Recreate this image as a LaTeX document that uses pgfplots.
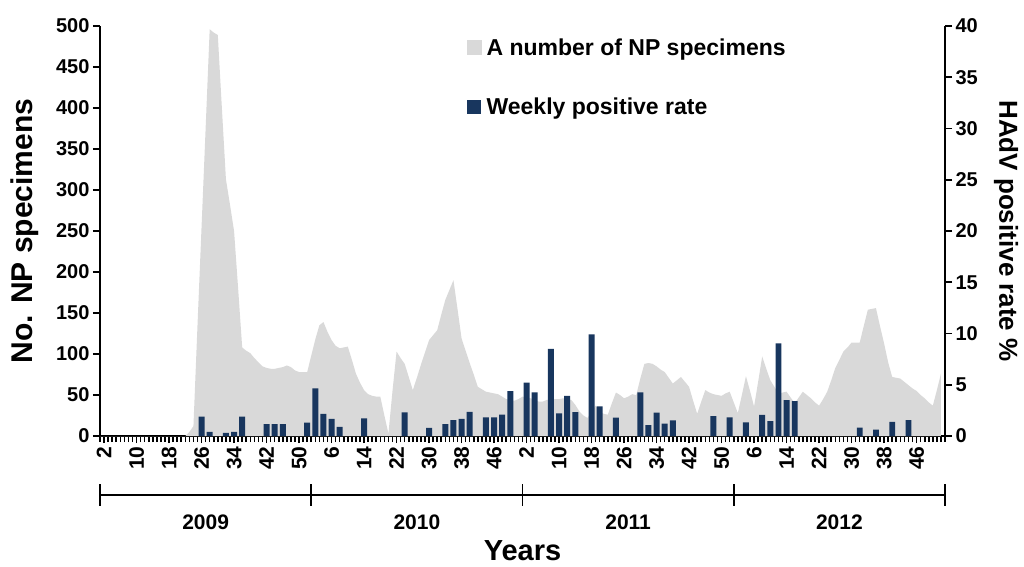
\documentclass[border=0pt]{standalone}
\usepackage{fontspec}
\setmainfont{Liberation Sans}
\usepackage{pgfplots}
\pgfplotsset{compat=1.18}
\usepackage{pgfplotstable}
\definecolor{areagray}{RGB}{217,217,217}
\definecolor{barblue}{RGB}{24,54,94}

\pgfplotstableread{
x y
0 0
21 0
22 5
23 12
24 135
25 255
26 375
27 496
28 492
29 489
30 400
31 313
32 282
33 250
34 180
35 108
36 104
37 101
38 95
39 90
40 85
41 83
42 82
43 82
44 83
45 84
46 86
47 84
48 80
49 78
50 78
51 78
52 98
53 118
54 135
55 139
56 127
57 117
58 110
59 107
60 108
61 109
62 93
63 76
64 65
65 56
66 51
67 49
68 48
69 48
70 25
71 3
72 55
73 103
74 95
75 88
76 72
77 56
78 71
79 87
80 102
81 117
82 123
83 129
84 148
85 166
86 178
87 190
88 155
89 119
90 104
91 89
92 75
93 60
94 57
95 54
96 53
97 52
98 51
99 48
100 45
101 44
102 43
103 45
104 48
105 47
106 46
107 44
108 42
109 42
110 44
111 45
112 45
113 45
114 46
115 45
116 44
117 38
118 30
119 25
120 22
121 30
122 37
123 30
124 27
125 26
126 40
127 53
128 50
129 46
130 48
131 51
132 50
133 70
134 88
135 89
136 88
137 85
138 81
139 78
140 71
141 64
142 68
143 72
144 66
145 60
146 43
147 27
148 42
149 56
150 53
151 51
152 50
153 49
154 52
155 54
156 41
157 28
158 50
159 73
160 55
161 36
162 66
163 97
164 82
165 68
166 60
167 52
168 53
169 54
170 47
171 40
172 47
173 54
174 50
175 46
176 41
177 37
178 45
179 54
180 68
181 83
182 93
183 103
184 108
185 114
186 114
187 114
188 134
189 154
190 155
191 156
192 134
193 113
194 90
195 72
196 71
197 70
198 66
199 62
200 58
201 55
202 50
203 46
204 41
205 37
206 56
207 76
}\npdata

\pgfplotstableread{
x y
25 1.9
27 0.4
31 0.3
33 0.4
35 1.9
41 1.17
43 1.17
45 1.17
51 1.3
53 4.65
55 2.15
57 1.66
59 0.9
65 1.72
75 2.3
81 0.8
85 1.17
87 1.56
89 1.66
91 2.35
95 1.82
97 1.82
99 2.08
101 4.39
105 5.22
107 4.26
111 8.49
113 2.2
115 3.92
117 2.32
121 9.92
123 2.9
127 1.79
133 4.26
135 1.07
137 2.28
139 1.2
141 1.53
151 1.95
155 1.82
159 1.33
163 2.05
165 1.46
167 9.04
169 3.51
171 3.41
187 0.81
191 0.62
195 1.37
199 1.56
}\ratedata

\newcommand{\tickfont}{\fontsize{20}{24}\selectfont\bfseries}

\begin{document}
\begin{tikzpicture}
\pgfplotsset{
  base/.style={
    scale only axis, width=845pt, height=410pt,
    xmin=0, xmax=208,
    axis line style={line width=2.2pt, -},
    tick align=outside,
    tick style={line width=1.6pt, black},
    every tick label/.append style={font=\tickfont},
    /pgf/number format/assume math mode=true,
    major tick length=7pt,
    minor tick length=6pt,
  }
}
\begin{axis}[base, name=main,
  axis x line*=bottom, axis y line*=left,
  ymin=0, ymax=500, ytick={0,50,...,500},
  xtick={1,9,...,201},
  xticklabels={2,10,18,26,34,42,50,6,14,22,30,38,46,2,10,18,26,34,42,50,6,14,22,30,38,46},
  x tick label style={rotate=90, anchor=east, font=\fontsize{21}{25}\selectfont\bfseries},
  minor xtick={0,1,...,208},
  major x tick style={line width=1.6pt},
  ylabel={No. NP specimens},
  ylabel style={font=\fontsize{30}{34}\selectfont\bfseries, at={(axis description cs:-0.0888,0.5)}, anchor=center},
  clip=false,
]
\addplot[fill=areagray, draw=none] table[x=x,y=y]{\npdata} \closedcycle;
\draw[line width=2pt] ([yshift=-59pt]axis cs:0,0) -- ([yshift=-59pt]axis cs:208,0);
\pgfplotsinvokeforeach{0,52,104,156,208}{
  \draw[line width=1.6pt] ([yshift=-48pt]axis cs:#1,0) -- ([yshift=-70pt]axis cs:#1,0);
}
\node[font=\fontsize{21}{25}\selectfont\bfseries] at ([yshift=-86pt]axis cs:26,0) {2009};
\node[font=\fontsize{21}{25}\selectfont\bfseries] at ([yshift=-86pt]axis cs:78,0) {2010};
\node[font=\fontsize{21}{25}\selectfont\bfseries] at ([yshift=-86pt]axis cs:130,0) {2011};
\node[font=\fontsize{21}{25}\selectfont\bfseries] at ([yshift=-86pt]axis cs:182,0) {2012};
\node[font=\fontsize{29}{33}\selectfont\bfseries] at ([yshift=-115pt]axis cs:104,0) {Years};
\end{axis}
\begin{axis}[base,
  axis y line*=right, axis x line=none,
  ymin=0, ymax=40, ytick={0,5,...,40},
  ylabel={HAdV positive rate \%},
  ylabel style={font=\fontsize{26}{30}\selectfont\bfseries, rotate=180, at={(axis description cs:1.0722,0.5)}, anchor=center},
  legend style={at={(axis description cs:0.4343,0.975)}, anchor=north west, draw=none, fill=none,
    font=\fontsize{23}{27}\selectfont\bfseries, inner sep=0pt, nodes={inner sep=2pt}, row sep=37pt},
  legend cell align=left,
]
\addlegendimage{legend image code/.code={\fill[areagray] (0pt,-7pt) rectangle (14pt,7pt); \path (17pt,0pt);}}
\addlegendentry{A number of NP specimens}
\addplot[ybar, bar width=5.9pt, bar shift=0pt, fill=barblue, draw=none,
  legend image code/.code={\fill[barblue] (0pt,-7pt) rectangle (14pt,7pt); \path (17pt,0pt);}] table[x=x,y=y]{\ratedata};
\addlegendentry{Weekly positive rate}
\end{axis}
\pgfresetboundingbox
\path (main.south west) ++(-100pt,-130pt) rectangle ++(1024pt,566pt);
\end{tikzpicture}
\end{document}
